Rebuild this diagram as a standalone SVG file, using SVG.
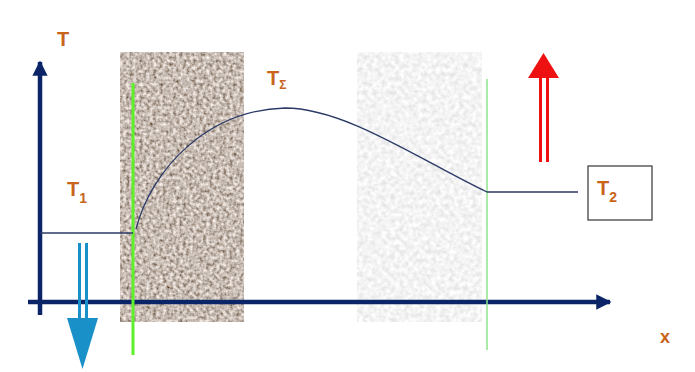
<svg xmlns="http://www.w3.org/2000/svg" width="695" height="372" viewBox="0 0 695 372">
<style>
.lbl{font-family:"Liberation Sans",Arial,sans-serif;font-weight:bold;fill:#c8641c}
.axis{stroke:#0b2467;stroke-width:4.5;fill:none}
.thin{stroke:#2b3a66;stroke-width:1.3;fill:none}
</style>
<defs>
<filter id="brown" x="0" y="0" width="1" height="1">
<feTurbulence type="fractalNoise" baseFrequency="0.3" numOctaves="2" seed="3"/>
<feColorMatrix type="matrix" values="1.15 0 0 0 0.0  1.15 0 0 0 -0.07  1.15 0 0 0 -0.12  0 0 0 0 1"/>
</filter>
<filter id="light" x="0" y="0" width="1" height="1">
<feTurbulence type="fractalNoise" baseFrequency="0.22" numOctaves="2" seed="7"/>
<feColorMatrix type="matrix" values="0.4 0 0 0 0.70  0.4 0 0 0 0.70  0.4 0 0 0 0.70  0 0 0 0 1"/>
</filter>
<marker id="axhead" viewBox="0 0 10 10" refX="9" refY="5" markerWidth="3.4" markerHeight="3.4" orient="auto" markerUnits="strokeWidth">
<path d="M0,0 L10,5 L0,10 Z" fill="#0b2467"/>
</marker>
</defs>
<rect width="695" height="372" fill="#ffffff"/>
<g id="slab1"><rect x="120" y="52" width="124" height="270" fill="#9c8a7c" filter="url(#brown)"/></g>
<g id="slab2"><rect x="357" y="52" width="125" height="270" fill="#e8e8e8" filter="url(#light)"/></g>
<g id="connectors">
<line class="axis" x1="40" y1="315" x2="40" y2="62" marker-end="url(#axhead)"/>
<line class="axis" x1="28" y1="302" x2="610" y2="302" marker-end="url(#axhead)"/>
<line x1="133" y1="83" x2="133" y2="355" stroke="#5ef02a" stroke-width="3"/>
<line x1="487" y1="79" x2="487" y2="350" stroke="#8ee68a" stroke-width="1.5"/>
<line class="thin" x1="40" y1="233" x2="133" y2="233" stroke="#5a6a8a"/>
<path class="thin" d="M136,229 C152,168 208,110 285,108 C345,108 420,160 487,192 L578,192"/>
<g id="blue-arrow" fill="#1a90c8">
<rect x="78" y="243" width="3" height="76"/>
<rect x="85" y="243" width="3" height="76"/>
<path d="M67,318 L98,318 L82.5,369 Z"/>
</g>
<g id="red-arrow" fill="#ee1111">
<rect x="539" y="76" width="3" height="86"/>
<rect x="546" y="76" width="3" height="86"/>
<path d="M528,78 L559,78 L543.5,53 Z"/>
</g>
</g>
<g id="labelT"><text class="lbl" x="57" y="46" font-size="20">T</text></g>
<g id="labelT1"><text class="lbl" x="67" y="196" font-size="20">T<tspan font-size="14" dy="7">1</tspan></text></g>
<g id="labelTS"><text class="lbl" x="267" y="85" font-size="20">T<tspan font-size="12" dy="4">Σ</tspan></text></g>
<g id="T2"><rect x="588" y="166" width="64" height="54" fill="#ffffff" stroke="#444" stroke-width="1.3"/>
<text class="lbl" x="597" y="195" font-size="20">T<tspan font-size="14" dy="7">2</tspan></text></g>
<g id="labelx"><text class="lbl" x="660" y="343" font-size="18">x</text></g>
</svg>
